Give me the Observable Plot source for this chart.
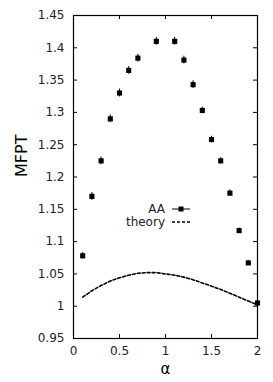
<!DOCTYPE html>
<html><head><meta charset="utf-8">
<script src="https://cdn.jsdelivr.net/npm/d3@7"></script>
<script src="https://cdn.jsdelivr.net/npm/@observablehq/plot@0.6"></script>
<style>
html,body{margin:0;padding:0;background:#fff;}
#wrap{position:relative;width:273px;height:382px;}
#legend{position:absolute;left:0;top:0;font-family:"DejaVu Sans",sans-serif;font-size:12px;color:#222;}
</style>
</head><body>
<div id="wrap"><div id="legend"></div></div>
<script>
const alphaAA = [0.1,0.2,0.3,0.4,0.5,0.6,0.7,0.9,1.1,1.2,1.3,1.4,1.5,1.6,1.7,1.8,1.9,2.0];
const mfptAA  = [1.078,1.170,1.225,1.290,1.330,1.365,1.384,1.410,1.410,1.381,1.343,1.303,1.258,1.225,1.175,1.117,1.067,1.005];
const errAA   = [0.005,0.006,0.006,0.006,0.006,0.006,0.006,0.006,0.006,0.006,0.006,0.005,0.005,0.005,0.005,0.004,0.004,0.003];
const alphaTh = [0.1,0.2,0.3,0.4,0.5,0.6,0.7,0.8,0.9,1.0,1.1,1.2,1.3,1.4,1.5,1.6,1.7,1.8,1.9,2.0];
const mfptTh  = [1.014,1.024,1.032,1.039,1.044,1.048,1.051,1.052,1.052,1.050,1.048,1.045,1.041,1.036,1.031,1.026,1.020,1.014,1.008,1.002];
const xTicks = [0,0.5,1,1.5,2];
const xTickLabels = ["0","0.5","1","1.5","2"];
const yTicks = [0.95,1,1.05,1.1,1.15,1.2,1.25,1.3,1.35,1.4,1.45];
const yTickLabels = ["0.95","1","1.05","1.1","1.15","1.2","1.25","1.3","1.35","1.4","1.45"];

const aa = alphaAA.map((a,i)=>({a, v:mfptAA[i], e:errAA[i]}));
const th = alphaTh.map((a,i)=>({a, v:mfptTh[i]}));

const W=273,H=382,mL=73,mR=16,mT=15,mB=44;
const fw=W-mL-mR, fh=H-mT-mB, tl=4;

const chart = Plot.plot({
  width:W, height:H, marginLeft:mL, marginRight:mR, marginTop:mT, marginBottom:mB,
  style:{fontFamily:"DejaVu Sans, sans-serif", fontSize:"12px", color:"#222", background:"#fff"},
  x:{domain:[0,2]},
  y:{domain:[0.95,1.45]},
  marks:[
    Plot.axisY({ticks:yTicks, tickSize:0, tickPadding:9, tickFormat:(d,i)=>yTickLabels[i], label:null}),
    Plot.axisX({ticks:xTicks, tickSize:0, tickPadding:8, tickFormat:(d,i)=>xTickLabels[i], label:null}),
    Plot.tickY(yTicks,{y:d=>d, insetRight:fw-tl, stroke:"#000"}),
    Plot.tickY(yTicks,{y:d=>d, insetLeft:fw-tl, stroke:"#000"}),
    Plot.tickX(xTicks,{x:d=>d, insetTop:fh-tl, stroke:"#000"}),
    Plot.tickX(xTicks,{x:d=>d, insetBottom:fh-tl, stroke:"#000"}),
    Plot.line(th,{x:"a", y:"v", stroke:"#000", strokeWidth:1.6, strokeDasharray:"3,2"}),
    Plot.ruleX(aa,{x:"a", y1:d=>d.v-d.e, y2:d=>d.v+d.e, stroke:"#000", strokeWidth:1}),
    Plot.dot(aa,{x:"a", y:"v", symbol:"square", r:2.9, fill:"#000", stroke:null}),
    Plot.frame({stroke:"#000", strokeWidth:1.2}),
    Plot.text(["MFPT"],{frameAnchor:"left", dx:-52, rotate:-90, text:d=>d, fontSize:16, fill:"#000"}),
    Plot.text(["α"],{frameAnchor:"bottom", lineAnchor:"middle", dy:31, text:d=>d, fontSize:15, fill:"#000"})
  ]
});
document.getElementById("wrap").prepend(chart);

// legend overlay
const lg = document.getElementById("legend");
lg.innerHTML = `
<div style="position:absolute;left:100px;top:201px;width:65px;text-align:right;line-height:16px">AA</div>
<div style="position:absolute;left:100px;top:214px;width:65px;text-align:right;line-height:16px">theory</div>
<svg style="position:absolute;left:170px;top:200px" width="22" height="30">
  <line x1="2" x2="20" y1="9" y2="9" stroke="#000" stroke-width="1"/>
  <rect x="8.5" y="6.5" width="5" height="5" fill="#000"/>
  <line x1="2" x2="20" y1="22" y2="22" stroke="#000" stroke-width="1.4" stroke-dasharray="3,2"/>
</svg>`;
</script>
</body></html>
